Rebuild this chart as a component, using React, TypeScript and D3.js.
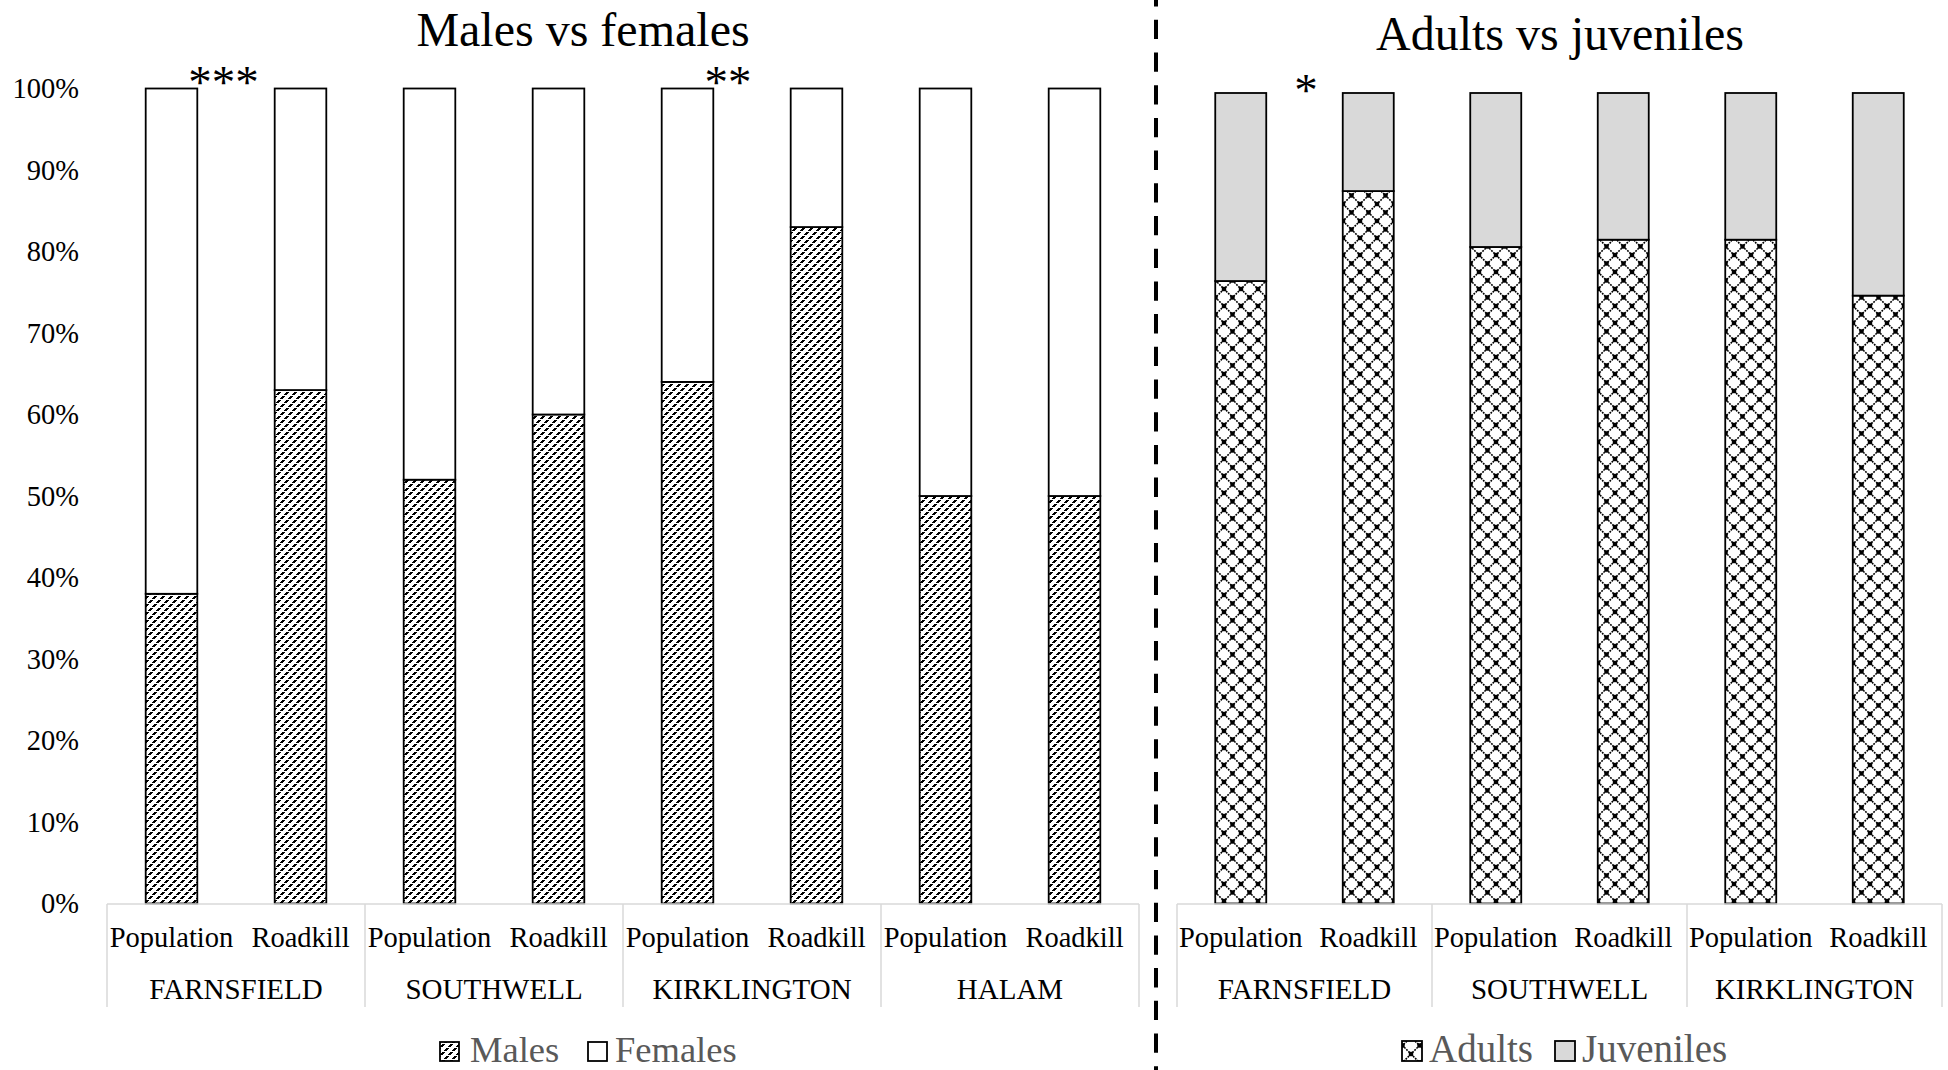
import React from "react";
import * as d3 from "d3";

// ---------- data ----------
const leftRegions = ["FARNSFIELD", "SOUTHWELL", "KIRKLINGTON", "HALAM"];
const rightRegions = ["FARNSFIELD", "SOUTHWELL", "KIRKLINGTON"];
const sampleTypes = ["Population", "Roadkill"];

// Males vs females (% per bar, order: region x sampleType)
const malesPct = [38, 63, 52, 60, 64, 83, 50, 50];
const femalesPct = [62, 37, 48, 40, 36, 17, 50, 50];

// Adults vs juveniles
const adultsPct = [76.8, 87.9, 81, 81.9, 81.9, 75];
const juvenilesPct = [23.2, 12.1, 19, 18.1, 18.1, 25];

const yTicks = [0, 10, 20, 30, 40, 50, 60, 70, 80, 90, 100];

const leftTitle = "Males vs females";
const rightTitle = "Adults vs juveniles";
const leftLegend = ["Males", "Females"];
const rightLegend = ["Adults", "Juveniles"];

// significance labels: [region index, label]
const leftStars: [number, string][] = [
  [0, "***"],
  [2, "**"],
];
const rightStars: [number, string][] = [[0, "*"]];

// ---------- layout ----------
const W = 1948;
const H = 1070;
const FONT = "'Liberation Serif', 'Times New Roman', serif";
const AXIS_GRAY = "#D9D9D9";
const LEGEND_GRAY = "#595959";

function slotKeys(regions: string[]) {
  const keys: string[] = [];
  regions.forEach((r) => sampleTypes.forEach((s) => keys.push(r + "|" + s)));
  return keys;
}

type PanelProps = {
  regions: string[];
  lower: number[];
  upper: number[];
  lowerFill: string;
  upperFill: string;
  x0: number;
  x1: number;
  yTop: number;
  yBottom: number;
  stars: [number, string][];
  starDx: number[];
  starBaseline: number;
};

function Panel(p: PanelProps) {
  const keys = slotKeys(p.regions);
  const x = d3
    .scaleBand<string>()
    .domain(keys)
    .range([p.x0, p.x1])
    .paddingInner(0.6)
    .paddingOuter(0.3);
  const y = d3.scaleLinear().domain([0, 100]).range([p.yBottom, p.yTop]);
  const groupW = (p.x1 - p.x0) / p.regions.length;
  const axisY = p.yBottom + 0.5;
  return (
    <g>
      {keys.map((k, i) => {
        const bx = x(k)!;
        const bw = x.bandwidth();
        const yl = y(p.lower[i]);
        const yu = y(p.lower[i] + p.upper[i]);
        return (
          <g key={k}>
            <rect x={bx} y={yl} width={bw} height={y(0) - yl} fill={p.lowerFill} stroke="#000" strokeWidth={1.8} />
            <rect x={bx} y={yu} width={bw} height={yl - yu} fill={p.upperFill} stroke="#000" strokeWidth={1.8} />
          </g>
        );
      })}
      {/* category axis */}
      <line x1={p.x0} x2={p.x1} y1={axisY} y2={axisY} stroke={AXIS_GRAY} strokeWidth={1.5} />
      {d3.range(p.regions.length + 1).map((i) => (
        <line
          key={"div" + i}
          x1={p.x0 + i * groupW}
          x2={p.x0 + i * groupW}
          y1={axisY}
          y2={1007}
          stroke={AXIS_GRAY}
          strokeWidth={1.5}
        />
      ))}
      {keys.map((k) => (
        <text
          key={"lbl" + k}
          x={x(k)! + x.bandwidth() / 2}
          y={946.5}
          textAnchor="middle"
          fontSize={28.5}
          fontFamily={FONT}
          fill="#000"
        >
          {k.split("|")[1]}
        </text>
      ))}
      {p.regions.map((r, i) => (
        <text
          key={"reg" + i}
          x={p.x0 + (i + 0.5) * groupW}
          y={999}
          textAnchor="middle"
          fontSize={29}
          fontFamily={FONT}
          fill="#000"
        >
          {r}
        </text>
      ))}
      {p.stars.map(([gi, lab], i) => (
        <text
          key={"star" + i}
          x={p.x0 + (gi + 0.5) * groupW + p.starDx[i]}
          y={p.starBaseline}
          textAnchor="middle"
          fontSize={47}
          fontFamily={FONT}
          fill="#000"
        >
          {lab}
        </text>
      ))}
    </g>
  );
}

function Legend({
  items,
  fills,
  xs,
  textXs,
  fontSize,
  box,
}: {
  items: string[];
  fills: string[];
  xs: number[];
  textXs: number[];
  fontSize: number;
  box: number;
}) {
  return (
    <g>
      {items.map((it, i) => (
        <g key={it}>
          <rect x={xs[i]} y={1061 - box} width={box} height={box} fill={fills[i]} stroke="#000" strokeWidth={1.8} />
          <text x={textXs[i]} y={1062} fontSize={fontSize} fontFamily={FONT} fill={LEGEND_GRAY}>
            {it}
          </text>
        </g>
      ))}
    </g>
  );
}

export default function App() {
  const yLeft = d3.scaleLinear().domain([0, 100]).range([903.5, 88.5]);
  return (
    <svg
      width={W}
      height={H}
      viewBox={`0 0 ${W} ${H}`}
      style={{ position: "absolute", left: 0, top: 0, background: "#fff" }}
    >
      <defs>
        <pattern id="malesPat" width={8} height={8} patternUnits="userSpaceOnUse">
          <rect width={8} height={8} fill="#fff" />
          <g fill="#000" shapeRendering="crispEdges">
            <rect x={0} y={6} width={3} height={1} />
            <rect x={1} y={5} width={3} height={1} />
            <rect x={2} y={4} width={3} height={1} />
            <rect x={4} y={2} width={3} height={1} />
            <rect x={5} y={1} width={3} height={1} />
            <rect x={6} y={0} width={2} height={1} />
            <rect x={0} y={0} width={1} height={1} />
          </g>
        </pattern>
        <pattern id="adultsPat" width={17} height={17} patternUnits="userSpaceOnUse">
          <rect width={17} height={17} fill="#fff" />
          <path d="M0,0L17,17M17,0L0,17" stroke="#000" strokeWidth={1.6} strokeDasharray="1.8 1.1" />
          <g fill="#000">
            <rect x={-2.2} y={-2.2} width={4.4} height={4.4} />
            <rect x={14.8} y={-2.2} width={4.4} height={4.4} />
            <rect x={-2.2} y={14.8} width={4.4} height={4.4} />
            <rect x={14.8} y={14.8} width={4.4} height={4.4} />
            <rect x={6.3} y={6.3} width={4.4} height={4.4} />
          </g>
        </pattern>
      </defs>
      <rect width={W} height={H} fill="#fff" />

      {/* titles */}
      <text x={583} y={46} textAnchor="middle" fontSize={48} fontFamily={FONT} fill="#000">
        {leftTitle}
      </text>
      <text x={1560} y={50} textAnchor="middle" fontSize={48} fontFamily={FONT} fill="#000">
        {rightTitle}
      </text>

      {/* y tick labels (left panel) */}
      {yTicks.map((t) => (
        <text
          key={t}
          x={79}
          y={yLeft(t)}
          dy="0.34em"
          textAnchor="end"
          fontSize={28.5}
          fontFamily={FONT}
          fill="#000"
        >
          {t + "%"}
        </text>
      ))}

      <Panel
        regions={leftRegions}
        lower={malesPct}
        upper={femalesPct}
        lowerFill="url(#malesPat)"
        upperFill="#fff"
        x0={107}
        x1={1139}
        yTop={88.5}
        yBottom={903.5}
        stars={leftStars}
        starDx={[-12.5, -24]}
        starBaseline={97.5}
      />
      <Panel
        regions={rightRegions}
        lower={adultsPct}
        upper={juvenilesPct}
        lowerFill="url(#adultsPat)"
        upperFill="#D9D9D9"
        x0={1177}
        x1={1942}
        yTop={93}
        yBottom={903.5}
        stars={rightStars}
        starDx={[1.5]}
        starBaseline={105.5}
      />

      <Legend
        items={leftLegend}
        fills={["url(#malesPat)", "#fff"]}
        xs={[440, 588]}
        textXs={[470, 615]}
        fontSize={36.5}
        box={19}
      />
      <Legend
        items={rightLegend}
        fills={["url(#adultsPat)", "#D9D9D9"]}
        xs={[1402, 1555]}
        textXs={[1429, 1582]}
        fontSize={39}
        box={20}
      />

      {/* dashed separator */}
      <line
        x1={1156}
        x2={1156}
        y1={0}
        y2={H}
        stroke="#000"
        strokeWidth={4}
        strokeDasharray="19.3 13.4"
        strokeDashoffset={12.9}
      />
    </svg>
  );
}
